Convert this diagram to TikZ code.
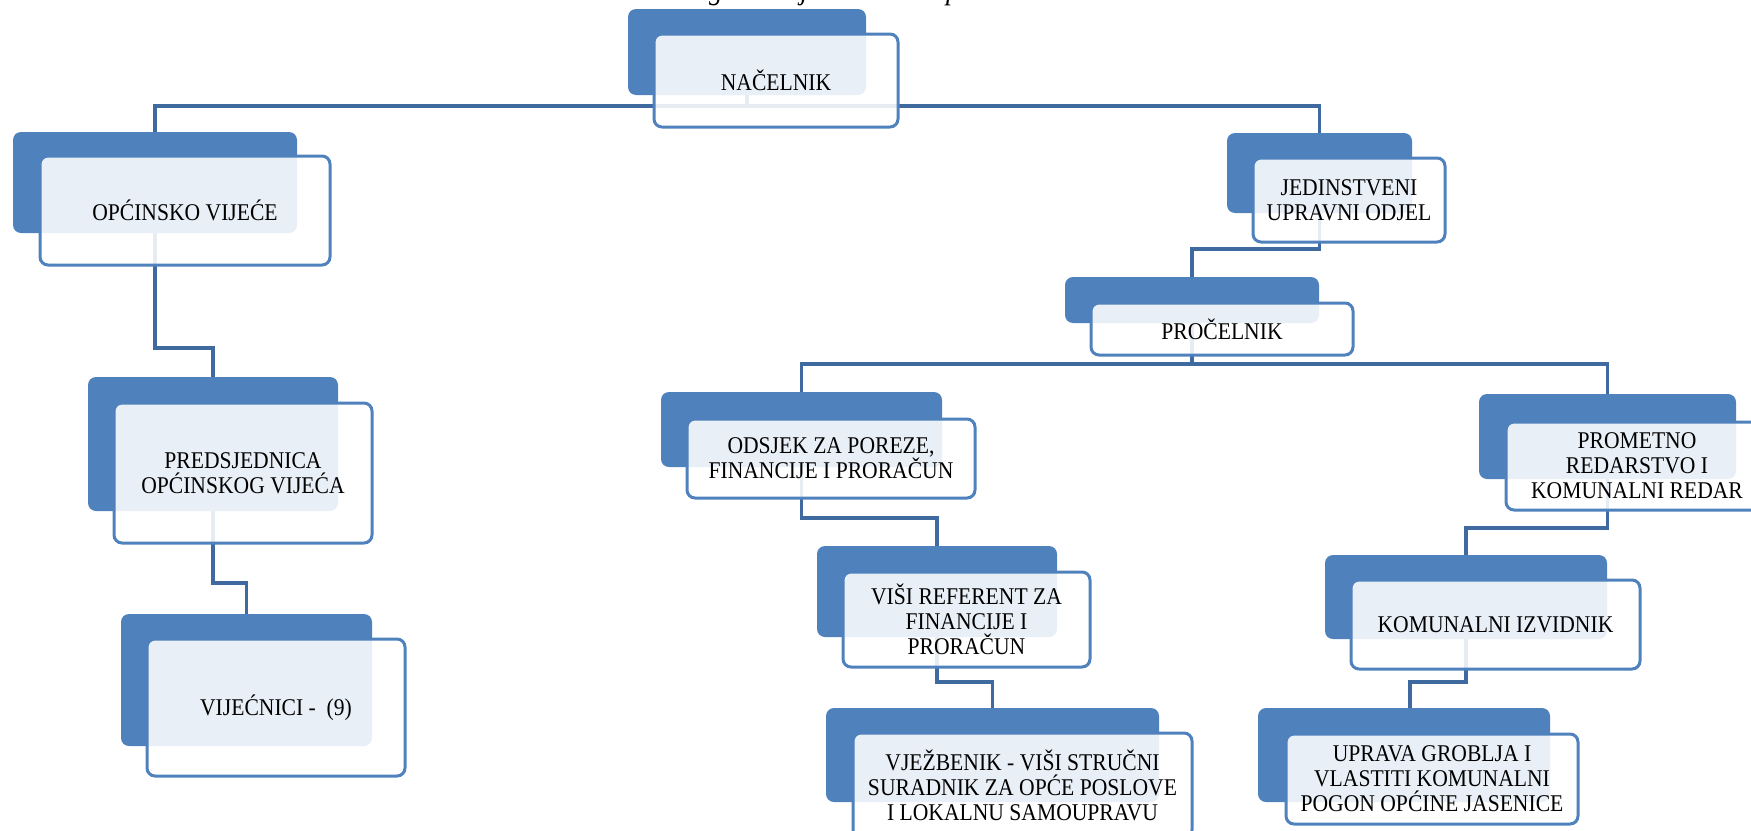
\documentclass[tikz,border=0pt]{standalone}
\usepackage{fontspec}
\setmainfont{Liberation Serif}[FakeStretch=0.9]
\definecolor{backblue}{HTML}{4F81BD}
\definecolor{connblue}{HTML}{3F6A9F}
\newcommand\boxfont{\fontsize{24}{25}\selectfont}
\pgfdeclarelayer{bg}
\pgfsetlayers{bg,main}
\tikzset{
  backbox/.style={fill=backblue, rounded corners=8pt, inner sep=0pt, outer sep=0pt, anchor=north west},
  frontbox/.style={draw=backblue, line width=3pt, fill=white, fill opacity=0.88, text opacity=1,
    rounded corners=8pt, inner sep=0pt, outer sep=0pt, anchor=north west, align=center,
    font=\boxfont, text=black},
  conn/.style={draw=connblue, line width=3.5pt},
}
\begin{document}
\begin{tikzpicture}[x=1pt,y=-1pt]
\useasboundingbox (0,0) rectangle (1751,830);
\node[anchor=base west, inner sep=0pt, font=\itshape\fontsize{30}{32}\selectfont] (title) at (680,-1) {Organizacijska shema Općine Jasenice};

\node[backbox, minimum width=238pt, minimum height=86pt] (nacB) at (628,9) {};
\node[frontbox, minimum width=244pt, minimum height=93pt] (nacF) at (654,34) {NAČELNIK};

\node[backbox, minimum width=284pt, minimum height=101pt] (opcB) at (13,132) {};
\node[frontbox, minimum width=290pt, minimum height=109pt] (opcF) at (40,156) {OPĆINSKO VIJEĆE};

\node[backbox, minimum width=250pt, minimum height=134pt] (preB) at (88,377) {};
\node[frontbox, minimum width=258pt, minimum height=140pt] (preF) at (114,403) {PREDSJEDNICA\\OPĆINSKOG VIJEĆA};

\node[backbox, minimum width=251pt, minimum height=132pt] (vijB) at (121,614) {};
\node[frontbox, minimum width=258pt, minimum height=137pt] (vijF) at (147,639) {VIJEĆNICI -\ \ (9)};

\node[backbox, minimum width=185pt, minimum height=80pt] (jedB) at (1227,133) {};
\node[frontbox, minimum width=192pt, minimum height=84pt] (jedF) at (1253,158) {JEDINSTVENI\\UPRAVNI ODJEL};

\node[backbox, minimum width=254pt, minimum height=46pt] (proB) at (1065,277) {};
\node[frontbox, minimum width=262pt, minimum height=52pt] (proF) at (1091,303) {PROČELNIK};

\node[backbox, minimum width=281pt, minimum height=75pt] (odsB) at (661,392) {};
\node[frontbox, minimum width=288pt, minimum height=79pt] (odsF) at (687,419) {ODSJEK ZA POREZE,\\FINANCIJE I PRORAČUN};

\node[backbox, minimum width=240pt, minimum height=91pt] (visB) at (817,546) {};
\node[frontbox, minimum width=247pt, minimum height=95pt] (visF) at (843,572) {VIŠI REFERENT ZA\\FINANCIJE I\\PRORAČUN};

\node[backbox, minimum width=333pt, minimum height=94pt] (vjeB) at (826,708) {};
\node[frontbox, minimum width=339pt, minimum height=105pt] (vjeF) at (853,733) {VJEŽBENIK - VIŠI STRUČNI\\SURADNIK ZA OPĆE POSLOVE\\I LOKALNU SAMOUPRAVU};

\node[backbox, minimum width=257pt, minimum height=85pt] (promB) at (1479,394) {};
\node[frontbox, minimum width=262pt, minimum height=88pt] (promF) at (1506,422) {PROMETNO\\REDARSTVO I\\KOMUNALNI REDAR};

\node[backbox, minimum width=282pt, minimum height=84pt] (komB) at (1325,555) {};
\node[frontbox, minimum width=289pt, minimum height=89pt] (komF) at (1351,580) {KOMUNALNI IZVIDNIK};

\node[backbox, minimum width=292pt, minimum height=94pt] (uprB) at (1258,708) {};
\node[frontbox, minimum width=292pt, minimum height=90pt] (uprF) at (1286,734) {UPRAVA GROBLJA I\\VLASTITI KOMUNALNI\\POGON OPĆINE JASENICE};

\begin{pgfonlayer}{bg}
\draw[conn] (nacB.south) -- ++(0,11) -| (opcB.north);
\draw[conn] (nacB.south) -- ++(0,11) -| (jedB.north);
\draw[conn] (opcB.south) -- ++(0,115) -| (preB.north);
\draw[conn] (preB.south) -- ++(0,72) -| (vijB.north);
\draw[conn] (jedB.south) -- ++(0,36) -| (proB.north);
\draw[conn] (proB.south) -- ++(0,41) -| (odsB.north);
\draw[conn] (proB.south) -- ++(0,41) -| (promB.north);
\draw[conn] (odsB.south) -- ++(0,51) -| (visB.north);
\draw[conn] (visB.south) -- ++(0,45) -| (vjeB.north);
\draw[conn] (promB.south) -- ++(0,49) -| (komB.north);
\draw[conn] (komB.south) -- ++(0,43) -| ([xshift=6pt]uprB.north);
\end{pgfonlayer}
\end{tikzpicture}
\end{document}
